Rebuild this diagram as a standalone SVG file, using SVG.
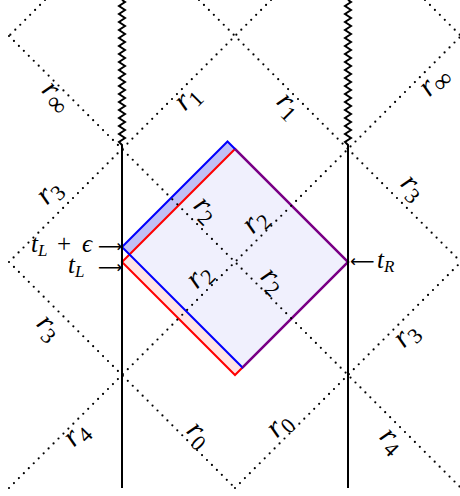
<svg xmlns="http://www.w3.org/2000/svg" xmlns:xlink="http://www.w3.org/1999/xlink" width="460" height="496" viewBox="0 0 460 496">
<style>
.dot{fill:none;stroke:#000;stroke-width:2.2;stroke-linecap:round;stroke-dasharray:0 7}
.wall{fill:none;stroke:#000;stroke-width:2}
.lbl{font-family:"Liberation Serif","DejaVu Serif",serif;font-size:30px;fill:#000;text-anchor:middle}
.it{font-style:italic}
.sub{font-size:22px}
.inf{font-size:26px}
.ann{font-family:"Liberation Serif","DejaVu Serif",serif;font-size:25px;fill:#000}
.asub{font-size:17px}
.arr{font-family:"DejaVu Sans",sans-serif;font-size:17px;fill:#000}
</style>
<defs>
<path id="zz" d="M122,0 L125,2 L119,6 L125,10 L119,14 L125,18 L119,22 L125,26 L119,30 L125,34 L119,38 L125,42 L119,46 L125,50 L119,54 L125,58 L119,62 L125,66 L119,70 L125,74 L119,78 L125,82 L119,86 L125,90 L119,94 L125,98 L119,102 L125,106 L119,110 L125,114 L119,118 L125,122 L119,126 L125,130 L119,134 L125,138 L119,142 L122,145 L122,488"/>
</defs>
<g id="region">
<polygon points="235,149 348,262 242.5,367.5 129.5,254.5" fill="#f0f0fd"/>
<polygon points="122,247 227.5,141.5 235,149 129.5,254.5" fill="#c0c0f7"/>
<polygon points="129.5,254.5 242.5,367.5 235,375 122,262" fill="#ffe4e4"/>
<polygon points="122,262 235,149 348,262 235,375" fill="none" stroke="#ff0000" stroke-width="2"/>
<polygon points="122,247 227.5,141.5 348,262 242.5,367.5" fill="none" stroke="#0000ff" stroke-width="2"/>
<polyline points="235,149 348,262 242.5,367.5" fill="none" stroke="#800080" stroke-width="2.2"/>
</g>
<g id="connectors">
<line class="dot" x1="9" y1="36" x2="461" y2="488"/>
<line class="dot" x1="199" y1="0" x2="461" y2="262"/>
<line class="dot" x1="9" y1="262" x2="235" y2="488"/>
<line class="dot" x1="425" y1="0" x2="461" y2="36"/>
<line class="dot" x1="45" y1="0" x2="9" y2="36"/>
<line class="dot" x1="271" y1="0" x2="9" y2="262"/>
<line class="dot" x1="9" y1="488" x2="461" y2="36"/>
<line class="dot" x1="235" y1="488" x2="461" y2="262"/>
<use xlink:href="#zz" class="wall"/>
<use xlink:href="#zz" class="wall" transform="translate(226,0)"/>
</g>
<g id="labels">
<text class="lbl" transform="translate(54,99) rotate(45)" y="4"><tspan class="it">r</tspan><tspan class="inf" dy="6">∞</tspan></text>
<text class="lbl" transform="translate(190,101) rotate(-45)" y="4"><tspan class="it">r</tspan><tspan class="sub" dy="6">1</tspan></text>
<text class="lbl" transform="translate(286,108) rotate(45)" y="4"><tspan class="it">r</tspan><tspan class="sub" dy="6">1</tspan></text>
<text class="lbl" transform="translate(437,84) rotate(-45)" y="4"><tspan class="it">r</tspan><tspan class="inf" dy="6">∞</tspan></text>
<text class="lbl" transform="translate(52,195) rotate(-45)" y="4"><tspan class="it">r</tspan><tspan class="sub" dy="6">3</tspan></text>
<text class="lbl" transform="translate(410,190) rotate(45)" y="4"><tspan class="it">r</tspan><tspan class="sub" dy="6">3</tspan></text>
<text class="lbl" transform="translate(46,330) rotate(45)" y="4"><tspan class="it">r</tspan><tspan class="sub" dy="6">3</tspan></text>
<text class="lbl" transform="translate(409,338) rotate(-45)" y="4"><tspan class="it">r</tspan><tspan class="sub" dy="6">3</tspan></text>
<text class="lbl" transform="translate(203,212) rotate(45)" y="4"><tspan class="it">r</tspan><tspan class="sub" dy="6">2</tspan></text>
<text class="lbl" transform="translate(258,224) rotate(-45)" y="4"><tspan class="it">r</tspan><tspan class="sub" dy="6">2</tspan></text>
<text class="lbl" transform="translate(202,279) rotate(-45)" y="4"><tspan class="it">r</tspan><tspan class="sub" dy="6">2</tspan></text>
<text class="lbl" transform="translate(270,283) rotate(45)" y="4"><tspan class="it">r</tspan><tspan class="sub" dy="6">2</tspan></text>
<text class="lbl" transform="translate(79,437) rotate(-45)" y="4"><tspan class="it">r</tspan><tspan class="sub" dy="6">4</tspan></text>
<text class="lbl" transform="translate(196,437) rotate(45)" y="4"><tspan class="it">r</tspan><tspan class="sub" dy="6">0</tspan></text>
<text class="lbl" transform="translate(282,428) rotate(-45)" y="4"><tspan class="it">r</tspan><tspan class="sub" dy="6">0</tspan></text>
<text class="lbl" transform="translate(389,443) rotate(45)" y="4"><tspan class="it">r</tspan><tspan class="sub" dy="6">4</tspan></text>
<text class="ann it" x="31" y="252">t<tspan class="asub" dy="4">L</tspan></text>
<text class="ann" x="64" y="252" text-anchor="middle">+</text>
<text class="ann it" x="82" y="252">ϵ</text>
<text class="arr" x="98" y="252">⟶</text>
<text class="ann it" x="68" y="273">t<tspan class="asub" dy="4">L</tspan></text>
<text class="arr" x="98" y="273">⟶</text>
<text class="arr" x="350" y="267">⟵</text>
<text class="ann it" x="377" y="268">t<tspan class="asub" dy="4">R</tspan></text>
</g>
</svg>
